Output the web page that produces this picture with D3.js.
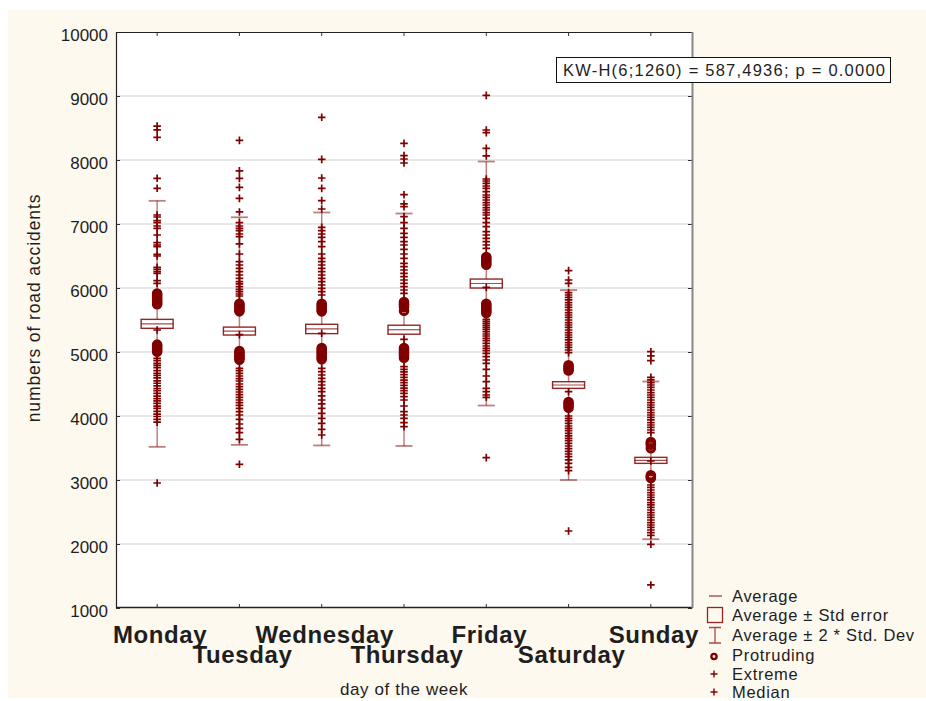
<!DOCTYPE html>
<html>
<head>
<meta charset="utf-8">
<script src="https://cdn.jsdelivr.net/npm/d3@7"></script>
<style>
  body { margin: 0; background: #fff; }
  svg { display: block; font-family: "Liberation Sans", Arial, sans-serif; }
</style>
</head>
<body>
<div id="chart"></div>
<script>
// Chart size
const width = 926;
const height = 701;

// Categories and summary statistics
const days = ["Monday", "Tuesday", "Wednesday", "Thursday", "Friday", "Saturday", "Sunday"];
const means = [5440, 5327, 5360, 5348, 6070, 4484, 3307];
const stdErr = [70, 62, 73, 70, 70, 52, 47];
const stdDev = [961, 889, 910, 908, 953, 742, 616];
const medians = [5344, 5271, 5292, 5198, 6010, 4380, 3297];
const yTicks = [1000, 2000, 3000, 4000, 5000, 6000, 7000, 8000, 9000, 10000];

// Protruding values (circles)
const protruding = [
  [5915, 5890, 5860, 5830, 5800, 5770, 5745, 5115, 5090, 5060, 5030, 5005],
  [5755, 5725, 5695, 5665, 5635, 5016, 4990, 4960, 4930, 4905, 4880],
  [5755, 5725, 5695, 5665, 5635, 5063, 5035, 5005, 4975, 4945, 4915, 4885],
  [5781, 5755, 5730, 5705, 5646, 5063, 5035, 5005, 4975, 4945, 4910],
  [6484, 6455, 6425, 6395, 6365, 5755, 5725, 5695, 5665, 5635, 5610],
  [4792, 4765, 4738, 4710, 4219, 4190, 4160, 4130],
  [3594, 3570, 3550, 3495, 3073, 3050, 3030]
];

// Extreme values (crosses)
const extremes = [
  [8530, 8470, 8355, 7714, 7558, 7141, 7109,
   7052, 7021, 6969, 6932, 6828, 6708, 6672, 6646, 6526, 6500, 6323, 6292, 6255, 6229, 6115, 6073,
   4900, 4866, 4823, 4790, 4755, 4710, 4668, 4635, 4595, 4550, 4512, 4470, 4430, 4398, 4355, 4312,
   4270, 4236, 4198, 4155, 4118, 4072, 4030, 3992, 3946, 3905, 2953],
  [8307, 7830, 7713, 7573, 7401, 7188,
   7021, 6969, 6932, 6896, 6844, 6802, 6688, 6531, 6411, 6359, 6307, 6255, 6203, 6151, 6099, 6063,
   6021, 5979, 5943, 5906, 5875,
   4745, 4708, 4667, 4625, 4583, 4547, 4500, 4458, 4417, 4375, 4333, 4292, 4250, 4208, 4167, 4120,
   4068, 4016, 3948, 3875, 3807, 3740, 3635, 3245],
  [8667, 8010, 7719, 7557, 7365, 7234,
   6948, 6896, 6844, 6792, 6724, 6646, 6531, 6464, 6411, 6359, 6307, 6255, 6203, 6151, 6099, 6047,
   5995, 5943, 5891,
   4745, 4693, 4641, 4589, 4537, 4484, 4432, 4380, 4313, 4250, 4188, 4120, 4042, 3964, 3885, 3792, 3703],
  [8260, 8068, 8016, 7953, 7458, 7313, 7271,
   7115, 7021, 6932, 6854, 6792, 6724, 6672, 6604, 6531, 6464, 6385, 6333, 6281, 6229, 6177, 6125,
   6073, 6021, 5969, 5917,
   4771, 4729, 4688, 4646, 4604, 4562, 4521, 4479, 4437, 4396, 4354, 4302, 4250, 4156, 4068, 4016,
   3964, 3896, 3833],
  [9010, 8469, 8427, 8182, 8063,
   7703, 7672, 7635, 7594, 7557, 7505, 7453, 7417, 7375, 7333, 7297, 7255, 7219, 7177, 7141, 7089,
   7021, 6958, 6880, 6828, 6776, 6724, 6672, 6620,
   5510, 5479, 5448, 5417, 5385, 5354, 5318, 5281, 5250, 5214, 5177, 5135, 5094, 5057, 5021, 4979,
   4927, 4875, 4823, 4729, 4625, 4536, 4432, 4380, 4328, 4292, 3349],
  [6271, 6125, 6073,
   5927, 5891, 5854, 5813, 5771, 5734, 5698, 5656, 5615, 5578, 5542, 5500, 5458, 5422, 5385, 5344,
   5302, 5266, 5229, 5188, 5146, 5109, 5073, 5031, 4990,
   4000, 3964, 3927, 3886, 3844, 3807, 3771, 3729, 3688, 3651, 3615, 3573, 3531, 3490, 3448, 3406,
   3365, 3313, 3260, 3198, 3146, 2203],
  [5005, 4938, 4865,
   4604, 4563, 4521, 4484, 4448, 4406, 4365, 4328, 4292, 4250, 4208, 4172, 4135, 4094, 4052, 4016,
   3979, 3938, 3896, 3859, 3823, 3781, 3740,
   2922, 2886, 2844, 2802, 2766, 2729, 2688, 2646, 2610, 2573, 2531, 2490, 2453, 2417, 2375, 2333,
   2297, 2260, 2219, 2177, 2136, 1995, 1360]
];

const legendItems = ["Average", "Average \u00b1 Std error", "Average \u00b1 2 * Std. Dev",
                     "Protruding", "Extreme", "Median"];

const red = "#800000";
const faint = "rgba(128,0,0,0.5)";
const ink = "#1e1e1e";

const svg = d3.select("#chart").append("svg")
    .attr("width", width)
    .attr("height", height);

// Cream panel
svg.append("rect")
    .attr("x", 8).attr("y", 10)
    .attr("width", width - 8).attr("height", 688)
    .attr("fill", "#fdf9ee");

// Scales
const x = d3.scaleBand().domain(days).range([116, 692]);
const y = d3.scaleLinear().domain([1000, 10000]).range([608, 32]);
const cx = d => x(d) + x.bandwidth() / 2;

// Plot area
svg.append("rect")
    .attr("x", 116).attr("y", 32)
    .attr("width", 576).attr("height", 576)
    .attr("fill", "#fff");

// Grid lines
svg.append("g")
  .selectAll("line")
  .data(yTicks.slice(1, -1))
  .join("line")
    .attr("x1", 116).attr("x2", 692)
    .attr("y1", d => y(d)).attr("y2", d => y(d))
    .attr("stroke", "#e0e0e0")
    .attr("stroke-width", 1.5);

// Plus path helper
const plus = s => `M${-s},0H${s}M0,${-s}V${s}`;

// One group per day
const groups = svg.append("g")
  .selectAll("g")
  .data(days)
  .join("g")
    .attr("transform", d => `translate(${cx(d)},0)`);

// Whisker (mean ± 2 SD)
groups.append("line")
    .attr("y1", (d, i) => y(means[i] + 2 * stdDev[i]))
    .attr("y2", (d, i) => y(means[i] - 2 * stdDev[i]))
    .attr("stroke", faint)
    .attr("stroke-width", 1.5);

// Extreme crosses
groups.selectAll("path.extreme")
  .data((d, i) => extremes[i])
  .join("path")
    .attr("class", "extreme")
    .attr("transform", v => `translate(0,${y(v)})`)
    .attr("d", plus(3.8))
    .attr("stroke", red)
    .attr("stroke-width", 1.7);

// Protruding circles
groups.selectAll("circle")
  .data((d, i) => protruding[i])
  .join("circle")
    .attr("cy", v => y(v))
    .attr("r", 3.8)
    .attr("fill", "none")
    .attr("stroke", red)
    .attr("stroke-width", 3);

// Whisker caps
groups.selectAll("line.cap")
  .data((d, i) => [means[i] + 2 * stdDev[i], means[i] - 2 * stdDev[i]])
  .join("line")
    .attr("class", "cap")
    .attr("x1", -8.5).attr("x2", 8.5)
    .attr("y1", v => y(v)).attr("y2", v => y(v))
    .attr("stroke", faint)
    .attr("stroke-width", 1.8);

// Std error box
groups.append("rect")
    .attr("x", -16)
    .attr("width", 32)
    .attr("y", (d, i) => y(means[i] + stdErr[i]))
    .attr("height", (d, i) => y(means[i] - stdErr[i]) - y(means[i] + stdErr[i]))
    .attr("fill", "#fff")
    .attr("stroke", red)
    .attr("stroke-opacity", 0.85)
    .attr("stroke-width", 1.4);

// Mean line
groups.append("line")
    .attr("x1", -16).attr("x2", 16)
    .attr("y1", (d, i) => y(means[i])).attr("y2", (d, i) => y(means[i]))
    .attr("stroke", red)
    .attr("stroke-opacity", 0.7)
    .attr("stroke-width", 1.2);

// Median cross
groups.append("path")
    .attr("transform", (d, i) => `translate(0,${y(medians[i])})`)
    .attr("d", plus(3.8))
    .attr("stroke", red)
    .attr("stroke-width", 1.7);

// Axes
const yAxis = svg.append("g")
    .attr("transform", "translate(116,0)")
    .call(d3.axisLeft(y).tickValues(yTicks).tickSize(-4).tickPadding(8).tickFormat(d3.format("d")));
const yAxisRight = svg.append("g")
    .attr("transform", "translate(692,0)")
    .call(d3.axisRight(y).tickValues(yTicks).tickSize(-4).tickFormat(""));
const xAxis = svg.append("g")
    .attr("transform", "translate(0,608)")
    .call(d3.axisBottom(x).tickSize(-4).tickPadding(0));
const xAxisTop = svg.append("g")
    .attr("transform", "translate(0,32)")
    .call(d3.axisTop(x).tickSize(-4).tickFormat(""));

[yAxis, yAxisRight, xAxis, xAxisTop].forEach(g => {
  g.select(".domain").remove();
  g.selectAll(".tick line").attr("stroke", "#333");
});

yAxis.selectAll("text")
    .attr("dy", "0.5em")
    .attr("fill", ink)
    .style("font-size", "17px");

xAxis.selectAll("text")
    .attr("x", 3)
    .attr("dy", null)
    .attr("y", (d, i) => i % 2 === 0 ? 35 : 55)
    .attr("fill", ink)
    .style("font-size", "24px")
    .style("font-weight", "bold")
    .style("letter-spacing", "0.6px");

// Frame
const frame = svg.append("g");
frame.append("line").attr("x1", 116.5).attr("x2", 116.5).attr("y1", 32).attr("y2", 608)
    .attr("stroke", "#222").attr("stroke-width", 1.2);
frame.append("line").attr("x1", 116).attr("x2", 692).attr("y1", 32.5).attr("y2", 32.5)
    .attr("stroke", "#222").attr("stroke-width", 1.2);
frame.append("line").attr("x1", 116).attr("x2", 693).attr("y1", 607.5).attr("y2", 607.5)
    .attr("stroke", "#222").attr("stroke-width", 1.4);
frame.append("line").attr("x1", 692.5).attr("x2", 692.5).attr("y1", 32).attr("y2", 608)
    .attr("stroke", "#888").attr("stroke-width", 2);

// Axis titles
svg.append("text")
    .attr("transform", "translate(40,308) rotate(-90)")
    .attr("text-anchor", "middle")
    .attr("fill", ink)
    .style("font-size", "17.5px")
    .style("letter-spacing", "0.9px")
    .text("numbers of road accidents");

svg.append("text")
    .attr("x", 404).attr("y", 695)
    .attr("text-anchor", "middle")
    .attr("fill", ink)
    .style("font-size", "17px")
    .style("letter-spacing", "0.6px")
    .text("day of the week");

// Test statistic box
svg.append("rect")
    .attr("x", 556.5).attr("y", 57.5)
    .attr("width", 334).attr("height", 25)
    .attr("fill", "#fff")
    .attr("stroke", "#111")
    .attr("stroke-width", 1);
svg.append("text")
    .attr("x", 563).attr("y", 76)
    .attr("fill", ink)
    .attr("textLength", 322)
    .attr("lengthAdjust", "spacing")
    .style("font-size", "16.5px")
    .style("white-space", "pre")
    .text("KW-H(6;1260) = 587,4936; p = 0.0000");

// Legend
const legend = svg.append("g").attr("transform", "translate(715,0)");
const legendY = [596, 615, 635, 655, 674, 692];

legend.append("line").attr("x1", -6).attr("x2", 7).attr("y1", 596).attr("y2", 596)
    .attr("stroke", red).attr("stroke-opacity", 0.75).attr("stroke-width", 1.3);
legend.append("rect").attr("x", -7.5).attr("y", 607.5).attr("width", 15).attr("height", 15)
    .attr("fill", "none").attr("stroke", red).attr("stroke-opacity", 0.85).attr("stroke-width", 1.3);
legend.append("path").attr("d", "M-6,627.5H6M0,627.5V643M-6,643H6")
    .attr("fill", "none").attr("stroke", red).attr("stroke-opacity", 0.7).attr("stroke-width", 1.3);
legend.append("circle").attr("cx", -1).attr("cy", 656.5).attr("r", 2.6)
    .attr("fill", "none").attr("stroke", red).attr("stroke-width", 2.4);
legend.append("path").attr("transform", "translate(-1,674)").attr("d", plus(3.5))
    .attr("stroke", red).attr("stroke-width", 1.4);
legend.append("path").attr("transform", "translate(-1,692)").attr("d", plus(3.5))
    .attr("stroke", red).attr("stroke-width", 1.4);

legend.selectAll("text")
  .data(legendItems)
  .join("text")
    .attr("x", 17)
    .attr("y", (d, i) => legendY[i] + 6)
    .attr("fill", ink)
    .style("font-size", "16.5px")
    .style("letter-spacing", "0.7px")
    .text(d => d);
</script>
</body>
</html>
